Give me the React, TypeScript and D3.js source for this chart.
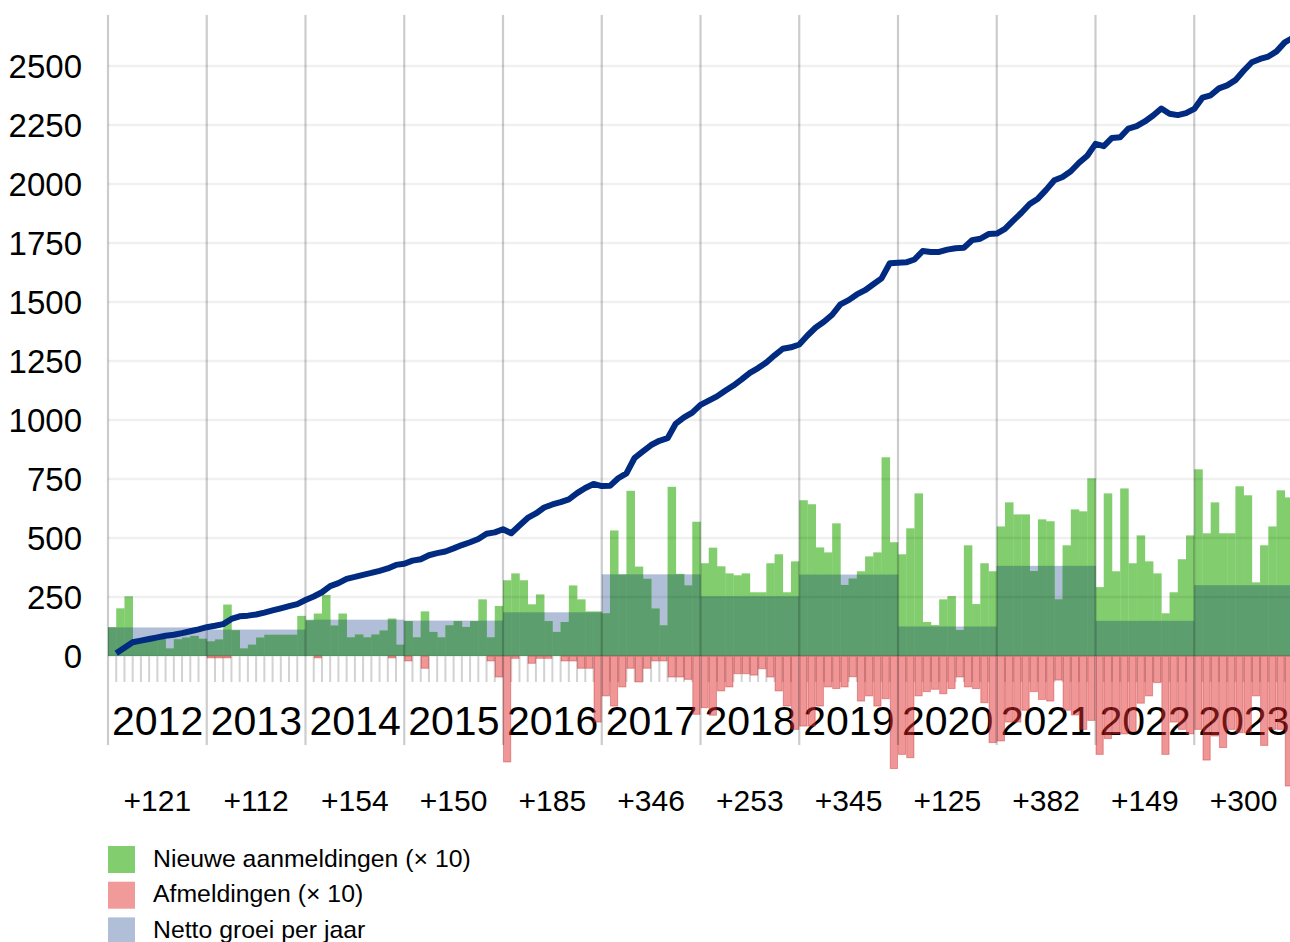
import React from "react";
import * as d3 from "d3";

const years = ["2012", "2013", "2014", "2015", "2016", "2017", "2018", "2019", "2020", "2021", "2022", "2023"];
const netGrowth = [121, 112, 154, 150, 185, 346, 253, 345, 125, 382, 149, 300];

// nieuwe aanmeldingen per maand (x 10)
const newReg = [
  122, 202, 253, 72, 72, 72, 72, 32, 71, 78, 85, 73,
  62, 70, 218, 109, 32, 48, 78, 90, 90, 90, 90, 170,
  151, 180, 259, 129, 180, 79, 91, 79, 91, 108, 159, 48,
  148, 79, 189, 102, 79, 130, 148, 123, 148, 240, 79, 212,
  321, 350, 321, 219, 261, 148, 102, 144, 299, 240, 189, 189,
  181, 532, 345, 700, 379, 327, 201, 130, 717, 348, 299, 569,
  393, 459, 380, 350, 342, 350, 270, 270, 393, 431, 270, 401,
  660, 643, 460, 439, 562, 301, 328, 359, 422, 439, 842, 482,
  431, 541, 689, 144, 131, 240, 254, 110, 469, 220, 393, 359,
  549, 651, 600, 600, 360, 579, 571, 240, 469, 621, 613, 753,
  292, 689, 359, 710, 393, 511, 401, 350, 181, 270, 410, 511,
  791, 520, 651, 520, 520, 719, 681, 312, 469, 549, 702, 672,
];

// afmeldingen per maand (x 10)
const dereg = [
  0, 0, 0, 0, 0, 0, 0, 0, 0, 0, 0, 0,
  8, 8, 8, 0, 0, 0, 0, 0, 0, 0, 0, 0,
  0, 8, 0, 0, 0, 0, 0, 0, 0, 0, 8, 0,
  21, 0, 52, 0, 0, 0, 0, 0, 0, 0, 21, 89,
  449, 10, 0, 31, 10, 10, 0, 21, 21, 52, 52, 280,
  169, 212, 131, 52, 110, 52, 21, 21, 89, 89, 99, 247,
  219, 251, 148, 131, 75, 75, 81, 54, 89, 148, 212, 311,
  297, 297, 212, 131, 138, 131, 88, 191, 169, 212, 181, 477,
  417, 431, 169, 151, 141, 160, 138, 89, 131, 138, 198, 367,
  360, 280, 280, 230, 151, 184, 191, 102, 230, 250, 311, 273,
  417, 350, 330, 330, 320, 200, 169, 113, 417, 280, 311, 330,
  311, 441, 339, 388, 311, 325, 325, 169, 379, 311, 311, 551,
];

// totaal aantal leden aan het eind van elke maand
const members = [
  12, 35, 58, 65, 72, 79, 86, 90, 97, 105, 113, 122,
  128, 135, 157, 168, 171, 176, 184, 193, 202, 211, 220, 237,
  252, 270, 296, 309, 327, 335, 344, 352, 361, 371, 386, 391,
  404, 410, 427, 436, 443, 456, 470, 482, 496, 518, 524, 537,
  520, 553, 585, 604, 629, 642, 652, 664, 690, 712, 729, 720,
  721, 753, 774, 840, 867, 894, 912, 923, 985, 1011, 1031, 1064,
  1082, 1100, 1124, 1146, 1172, 1200, 1220, 1244, 1274, 1302, 1308, 1320,
  1358, 1392, 1416, 1446, 1490, 1508, 1532, 1550, 1575, 1600, 1664, 1666,
  1668, 1680, 1716, 1712, 1712, 1722, 1728, 1730, 1762, 1768, 1788, 1790,
  1810, 1845, 1878, 1915, 1938, 1975, 2016, 2030, 2054, 2090, 2120, 2170,
  2160, 2195, 2198, 2235, 2245, 2265, 2290, 2320, 2298, 2292, 2300, 2318,
  2366, 2376, 2405, 2418, 2440, 2480, 2516, 2530, 2540, 2562, 2600, 2620,
];

const yTicks = [0, 250, 500, 750, 1000, 1250, 1500, 1750, 2000, 2250, 2500];

const legendItems = [
  { label: "Nieuwe aanmeldingen (× 10)", color: "#82cd6e" },
  { label: "Afmeldingen (× 10)", color: "#f09a9a" },
  { label: "Netto groei per jaar", color: "#b0bed8" },
];

const font = "'Liberation Sans', Arial, Helvetica, sans-serif";

export default function App() {
  const width = 1290;
  const height = 942;
  const left = 108;
  const yearW = 98.75;

  const x = d3.scaleLinear().domain([0, 144]).range([left, left + 12 * yearW]);
  const y = d3.scaleLinear().domain([0, 2500]).range([656, 66]);

  const memberLine = d3
    .line<number>()
    .x((_, i) => x(i + 1))
    .y((d) => y(d));

  const months = d3.range(144);

  return (
    <svg
      width={width}
      height={height}
      style={{ position: "absolute", left: 0, top: 0, background: "#fff" }}
      fontFamily={font}
    >
      {/* netto groei per jaar */}
      {netGrowth.map((v, k) => (
        <rect key={k} x={x(k * 12)} y={y(v)} width={x(k * 12 + 12) - x(k * 12)} height={y(0) - y(v)} fill="#b0bed8" />
      ))}

      {/* nieuwe aanmeldingen */}
      {months.map((i) => (
        <rect key={i} x={x(i)} y={y(newReg[i])} width={x(i + 1) - x(i) + 0.3} height={y(0) - y(newReg[i])} fill="#82cd6e" />
      ))}

      {/* overlap */}
      {months.map((i) => {
        const v = Math.min(newReg[i], netGrowth[Math.floor(i / 12)]);
        return <rect key={i} x={x(i)} y={y(v)} width={x(i + 1) - x(i) + 0.3} height={y(0) - y(v)} fill="#5c9e6e" />;
      })}

      {/* horizontale rasterlijnen */}
      {yTicks.map((t) => (
        <line key={t} x1={left} x2={width} y1={y(t)} y2={y(t)} stroke="rgba(0,0,0,0.06)" strokeWidth={2.5} />
      ))}

      {/* maand ticks */}
      {months
        .filter((i) => i % 12 !== 0)
        .map((i) => (
          <line key={i} x1={x(i)} x2={x(i)} y1={656} y2={682} stroke="#d2d2d2" strokeWidth={2} />
        ))}

      {/* jaartallen */}
      {years.map((yr, k) => (
        <text key={yr} x={x(k * 12) + 4} y={735} fontSize={41} fill="#000">
          {yr}
        </text>
      ))}

      {netGrowth.map((v, k) => (
        <text key={k} x={x(k * 12 + 6)} y={811} fontSize={30} textAnchor="middle" fill="#000">
          {`+${v}`}
        </text>
      ))}

      {/* afmeldingen */}
      {months.map((i) =>
        dereg[i] > 0 ? (
          <rect
            key={i}
            x={x(i) + 0.5}
            y={y(0)}
            width={x(i + 1) - x(i) - 1}
            height={y(0) - y(dereg[i])}
            fill="rgba(225,45,45,0.5)"
            stroke="rgba(190,20,20,0.35)"
            strokeWidth={1}
          />
        ) : null
      )}

      {/* jaar rasterlijnen */}
      {d3.range(13).map((k) => (
        <line key={k} x1={x(k * 12)} x2={x(k * 12)} y1={15} y2={745} stroke="rgba(0,0,0,0.2)" strokeWidth={2.2} />
      ))}

      {/* totaal leden */}
      <path d={memberLine(members) || ""} fill="none" stroke="#002b80" strokeWidth={6} strokeLinejoin="round" strokeLinecap="butt" />

      {/* y-as labels */}
      {yTicks.map((t) => (
        <text key={t} x={82} y={y(t)} dy="0.35em" fontSize={33} textAnchor="end" fill="#000">
          {t}
        </text>
      ))}

      {/* legenda */}
      {legendItems.map((item, k) => (
        <g key={item.label} transform={`translate(108, ${846 + k * 35.7})`}>
          <rect width={27} height={27} fill={item.color} />
          <text x={45} y={20.5} fontSize={24.8} fill="#000">
            {item.label}
          </text>
        </g>
      ))}
    </svg>
  );
}
